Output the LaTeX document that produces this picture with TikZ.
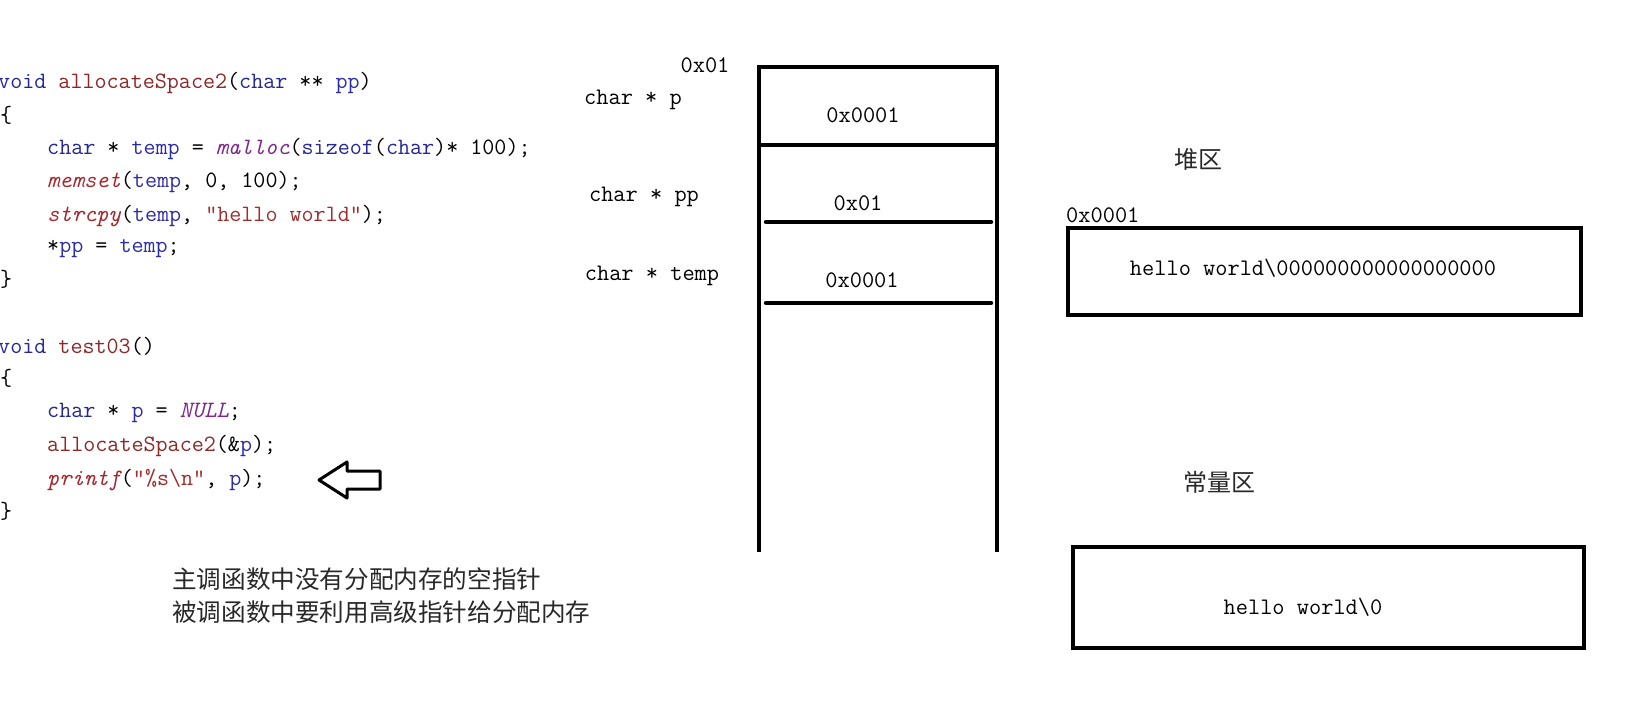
\documentclass[tikz,border=0pt]{standalone}
\usepackage{fontspec}
\usepackage{tikz}
\newfontfamily\cjk{Noto Sans CJK SC}
\definecolor{kwblue}{RGB}{35,40,150}
\definecolor{fnred}{RGB}{140,40,40}
\definecolor{varblue}{RGB}{45,45,165}
\definecolor{itred}{RGB}{165,40,45}
\definecolor{macpurple}{RGB}{125,40,140}
\definecolor{strred}{RGB}{160,45,45}
\definecolor{notegray}{RGB}{40,40,40}
\newcommand{\ckw}[1]{\textcolor{kwblue}{#1}}
\newcommand{\cfn}[1]{\textcolor{fnred}{#1}}
\newcommand{\cvar}[1]{\textcolor{varblue}{#1}}
\newcommand{\cit}[1]{\textcolor{itred}{\itshape #1}}
\newcommand{\cmac}[1]{\textcolor{macpurple}{\itshape #1}}
\newcommand{\cstr}[1]{\textcolor{strred}{#1}}

\begin{document}
\begin{tikzpicture}[x=1pt, y=-1pt,
    code/.style={font=\ttfamily\fontsize{23.4}{28}\selectfont, anchor=west, inner sep=0pt},
    memtxt/.style={font=\ttfamily\fontsize{23.7}{28}\selectfont, inner sep=0pt},
    cjktxt/.style={font=\cjk\fontsize{24}{28}\selectfont, text=notegray, inner sep=0pt},
    frame/.style={line width=4.5pt}]
    \useasboundingbox[fill=white] (0,0) rectangle (1634,716);

    % 代码: allocateSpace2
    \node[code] (l1) at (-2,83) {\ckw{void} \cfn{allocateSpace2}(\ckw{char} ** \cvar{pp})};
    \node[code] (l2) at (0,115) {\{};
    \node[code] (l3) at (47,149) {\ckw{char} * \cvar{temp} = \cmac{malloc}(\ckw{sizeof}(\ckw{char})* 100);};
    \node[code] (l4) at (47,182) {\cit{memset}(\cvar{temp}, 0, 100);};
    \node[code] (l5) at (47,216) {\cit{strcpy}(\cvar{temp}, \cstr{"hello world"});};
    \node[code] (l6) at (47,249) {*\cvar{pp} = \cvar{temp};};
    \node[code] (l7) at (0,279) {\}};

    % 代码: test03
    \node[code] (l8) at (-2,346) {\ckw{void} \cfn{test03}()};
    \node[code] (l9) at (0,378) {\{};
    \node[code] (l10) at (47,413) {\ckw{char} * \cvar{p} = \cmac{NULL};};
    \node[code] (l11) at (47,446) {\cfn{allocateSpace2}(\&\cvar{p});};
    \node[code] (l12) at (47,480) {\cit{printf}(\cstr{"\%s\textbackslash n"}, \cvar{p});};
    \node[code] (l13) at (0,511) {\}};

    % 空心箭头
    \draw[line width=3pt, line join=round] (319,480) -- (347,462) -- (347,471) -- (380,471)
        -- (380,489) -- (347,489) -- (347,498) -- cycle;

    % 说明文字
    \node[cjktxt, anchor=west, font=\cjk\fontsize{24.6}{28}\selectfont] (note1) at (172,579) {主调函数中没有分配内存的空指针};
    \node[cjktxt, anchor=west, font=\cjk\fontsize{24.6}{28}\selectfont] (note2) at (172,612) {被调函数中要利用高级指针给分配内存};

    % 栈区
    \draw[frame] (759,552) -- (759,67) -- (997,67) -- (997,552);
    \draw[frame] (759,145) -- (997,145);
    \draw[frame, line cap=round] (766,222) -- (991,222);
    \draw[frame, line cap=round] (766,303) -- (991,303);
    \node[memtxt] (addrp) at (705,65) {0x01};
    \node[memtxt] (vp) at (633,100) {char * p};
    \node[memtxt] (valp) at (863,115) {0x0001};
    \node[memtxt] (vpp) at (644,197) {char * pp};
    \node[memtxt] (valpp) at (858,203) {0x01};
    \node[memtxt] (vtemp) at (652,276) {char * temp};
    \node[memtxt] (valtemp) at (862,280) {0x0001};

    % 堆区
    \node[cjktxt] (heap) at (1198,159) {堆区};
    \node[memtxt, anchor=west] (addrh) at (1066,215) {0x0001};
    \draw[frame] (1068,228) rectangle (1581,315);
    \node[memtxt] (heapval) at (1313,268) {hello world\textbackslash 000000000000000000};

    % 常量区
    \node[cjktxt] (const) at (1219,482) {常量区};
    \draw[frame] (1073,547) rectangle (1584,648);
    \node[memtxt] (constval) at (1303,607) {hello world\textbackslash 0};
\end{tikzpicture}
\end{document}
